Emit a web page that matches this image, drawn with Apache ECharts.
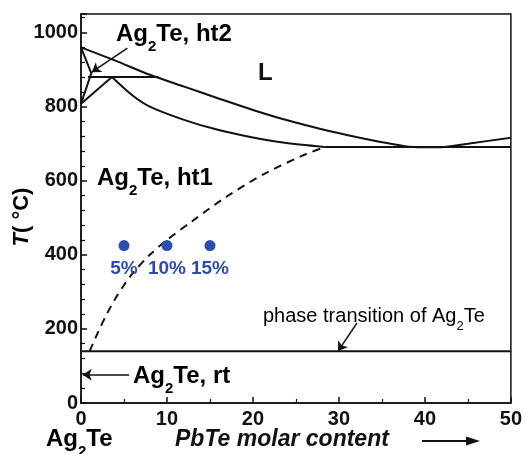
<!DOCTYPE html>
<html><head><meta charset="utf-8">
<script src="https://cdn.jsdelivr.net/npm/echarts@6/dist/echarts.min.js"></script>
<style>html,body{margin:0;padding:0;background:#fff}#c{width:525px;height:454px}</style>
</head><body><div id="c"></div>
<script>
// ---- data ----
const xTickLabels = [0, 10, 20, 30, 40, 50];
const yTickLabels = [0, 200, 400, 600, 800, 1000];
const liquidus = [[0,960],[4,924],[8,886],[12,854],[16,822],[20,791],[24,763],[28,739],[32,718],[35,704],[37.5,694],[39.5,690],[41.5,690],[45,700],[50,716]];
const solidusHt1 = [[3.6,880],[6,830],[8,800],[11.9,765],[15.8,738],[19.7,718],[23.5,703],[28.3,691]];
const ht2Upper = [[0,960],[1.2,890],[0,808]];
const ht2Lower = [[0,808],[3.6,880]];
const line880 = [[0.8,880],[9,880]];
const line690 = [[28.3,691],[50,691]];
const line140 = [[0,140],[50,140]];
const solvus = [[1,140],[2,192],[3,240],[4,282],[5,318],[6,350],[8,400],[10,440],[13,492],[17,558],[21.6,622],[26.2,672],[28.4,691]];
const sampleX = [5, 10, 15];
const sampleT = [425, 425, 425];
const sampleLabels = ['5%', '10%', '15%'];
const arrowHt2 = [[5.4,958],[1.25,893]];
const arrowRt = [[5.6,76],[0.2,76]];
const arrowPhase = [[32.1,216],[29.9,140]];

const font = 'Liberation Sans, Arial, sans-serif';
const black = '#111';
const blue = '#2d4cae';

const chart = echarts.init(document.getElementById('c'), null, {renderer: 'canvas'});

function lineSeries(data, opts) {
  return Object.assign({
    type: 'line', data: data, symbol: 'none', silent: true,
    lineStyle: {color: black, width: 2}, z: 3
  }, opts || {});
}

const agRich = {
  n: {fontFamily: font, fontWeight: 'bold', fontSize: 24, lineHeight: 24, color: black},
  s: {fontFamily: font, fontWeight: 'bold', fontSize: 15, lineHeight: 15, padding: [25, 0, 0, 0], color: black}
};
const smallRich = {
  n: {fontFamily: font, fontSize: 20, lineHeight: 20, color: black},
  s: {fontFamily: font, fontSize: 13, lineHeight: 13, padding: [20, 0, 0, 0], color: black}
};

function agText(x, y, tail, rich) {
  return {
    type: 'text', left: x, top: y, z: 10,
    style: {text: '{n|Ag}{s|2}{n|Te' + tail + '}', rich: rich || agRich}
  };
}

chart.setOption({
  animation: false,
  grid: {left: 81, right: 14, top: 14, bottom: 51, show: true, borderColor: black, borderWidth: 1.5, backgroundColor: 'transparent'},
  xAxis: {
    type: 'value', min: 0, max: 50, interval: 10,
    axisLine: {show: true, lineStyle: {color: black, width: 1.5}},
    axisTick: {show: true, inside: true, length: 6, lineStyle: {color: black, width: 1.5}},
    minorTick: {show: true, splitNumber: 2, length: 4, lineStyle: {color: black, width: 1.2}},
    splitLine: {show: false},
    axisLabel: {fontFamily: font, fontWeight: 'bold', fontSize: 20, color: black, margin: 6,
      formatter: v => xTickLabels.includes(v) ? String(v) : ''}
  },
  yAxis: {
    type: 'value', min: 0, max: 1050, interval: 200,
    axisLine: {show: true, lineStyle: {color: black, width: 1.5}},
    axisTick: {show: true, inside: true, length: 6, lineStyle: {color: black, width: 1.5}},
    minorTick: {show: true, splitNumber: 5, length: 4, lineStyle: {color: black, width: 1.2}},
    splitLine: {show: false},
    axisLabel: {fontFamily: font, fontWeight: 'bold', fontSize: 20, color: black, margin: 3, showMaxLabel: false,
      formatter: v => yTickLabels.includes(v) ? String(v) : ''}
  },
  series: [
    lineSeries(liquidus, {smooth: 0.3}),
    lineSeries(solidusHt1, {smooth: 0.3}),
    lineSeries(ht2Upper),
    lineSeries(ht2Lower),
    lineSeries(line880),
    lineSeries(line690),
    lineSeries(line140),
    lineSeries(solvus, {smooth: 0.3, lineStyle: {color: black, width: 2, type: [8, 6]}}),
    {
      type: 'scatter', data: sampleX.map((x, i) => [x, sampleT[i]]), symbolSize: 11, z: 5,
      itemStyle: {color: blue, opacity: 1},
      label: {show: true, position: 'bottom', distance: 8, fontFamily: font, fontWeight: 'bold', fontSize: 19, color: blue,
        formatter: p => sampleLabels[p.dataIndex]}
    },
    {
      type: 'lines', coordinateSystem: 'cartesian2d', z: 4,
      symbol: ['none', 'arrow'], symbolSize: 9,
      lineStyle: {color: black, width: 1.5, opacity: 1},
      data: [{coords: arrowHt2}, {coords: arrowRt}, {coords: arrowPhase}]
    }
  ],
  graphic: [
    agText(116, 14, ', ht2'),
    agText(97, 158, ', ht1'),
    agText(133, 356, ', rt'),
    {type: 'text', left: 258, top: 61, z: 10, style: {text: 'L', fontFamily: font, fontWeight: 'bold', fontSize: 24, fill: black}},
    {type: 'text', left: 263, top: 300, z: 10, style: {text: '{n|phase transition of Ag}{s|2}{n|Te}', rich: smallRich}},
    agText(46, 419, ''),
    {type: 'text', left: 175, top: 428, z: 10, style: {text: 'PbTe molar content', fontFamily: font, fontWeight: 'bold', fontStyle: 'italic', fontSize: 23, fill: black}},
    {type: 'line', z: 10, shape: {x1: 422, y1: 441, x2: 470, y2: 441}, style: {stroke: black, lineWidth: 1.8}},
    {type: 'polygon', z: 10, shape: {points: [[480, 441], [466, 436.5], [466, 445.5]]}, style: {fill: black}},
    {type: 'text', z: 10, x: 22, y: 217, rotation: Math.PI / 2,
      style: {text: '{i|T}{n|( °C)}', align: 'center', verticalAlign: 'middle',
        rich: {i: {fontFamily: font, fontWeight: 'bold', fontStyle: 'italic', fontSize: 22, color: black},
               n: {fontFamily: font, fontWeight: 'bold', fontSize: 22, color: black}}}}
  ]
});
</script></body></html>
